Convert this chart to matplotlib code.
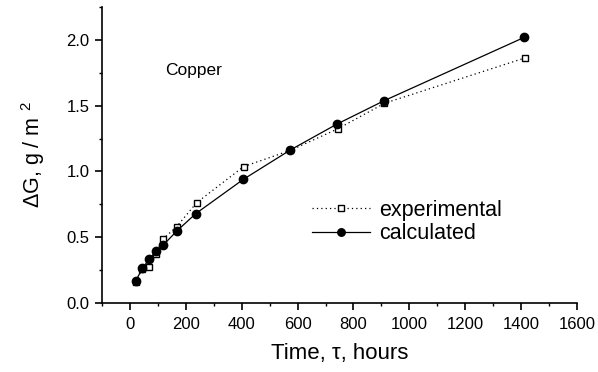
import matplotlib
matplotlib.use("Agg")
import matplotlib.pyplot as plt
from matplotlib.ticker import MultipleLocator, FormatStrFormatter

plt.rcParams['font.family'] = ['Liberation Sans', 'DejaVu Sans']
plt.rcParams['mathtext.fontset'] = 'custom'
plt.rcParams['mathtext.rm'] = 'Liberation Sans'
plt.rcParams['mathtext.it'] = 'Liberation Sans:italic'

exp_t = [21, 44, 69, 93, 117, 167, 239, 407, 574, 743, 911, 1414]
exp_g = [0.16, 0.26, 0.276, 0.37, 0.484, 0.58, 0.763, 1.037, 1.16, 1.323, 1.518, 1.863]
calc_t = [21, 44, 69, 93, 119, 169, 236, 406, 574, 740, 910, 1412]
calc_g = [0.167, 0.264, 0.332, 0.395, 0.44, 0.55, 0.68, 0.94, 1.163, 1.359, 1.538, 2.02]

fig = plt.figure(figsize=(5.98, 3.72), dpi=100)
ax = fig.add_axes([102/598, (372-303)/372, (577-102)/598, (303-7)/372])

ax.plot(exp_t, exp_g, linestyle=(0, (1, 2.5)), color='black', lw=0.9,
        marker='s', markersize=5, markerfacecolor='white', markeredgecolor='black',
        markeredgewidth=1.0, label='experimental')
ax.plot(calc_t, calc_g, linestyle='-', color='black', lw=0.9,
        marker='o', markersize=6, markerfacecolor='black', markeredgecolor='black',
        label='calculated')

ax.set_xlim(-100, 1600)
ax.set_ylim(0, 2.25)
ax.xaxis.set_major_locator(MultipleLocator(200))
ax.xaxis.set_minor_locator(MultipleLocator(100))
ax.yaxis.set_major_locator(MultipleLocator(0.5))
ax.yaxis.set_minor_locator(MultipleLocator(0.25))
ax.yaxis.set_major_formatter(FormatStrFormatter('%.1f'))

for s in ['top', 'right']:
    ax.spines[s].set_visible(False)
for s in ['left', 'bottom']:
    ax.spines[s].set_linewidth(1.2)

ax.tick_params(axis='both', which='major', direction='out', length=5, width=1.2, labelsize=12)
ax.tick_params(axis='x', which='major', pad=5)
ax.tick_params(axis='y', which='major', pad=4)
ax.tick_params(axis='both', which='minor', direction='out', length=2.5, width=1.0)

ax.set_xlabel('Time, τ, hours', fontsize=16, labelpad=8)
ax.set_ylabel(r'ΔG, g / m $^{2}$', fontsize=15.5, labelpad=14)

ax.text(125, 1.77, 'Copper', fontsize=12.5, ha='left', va='center')

leg = ax.legend(loc='upper left', bbox_to_anchor=((312-102)/475, (303-200)/296), frameon=False,
                fontsize=15.5, handlelength=2.7, handletextpad=0.4, labelspacing=0.1,
                borderpad=0, borderaxespad=0, markerscale=0.9)

fig.savefig('out.png', dpi=100)
